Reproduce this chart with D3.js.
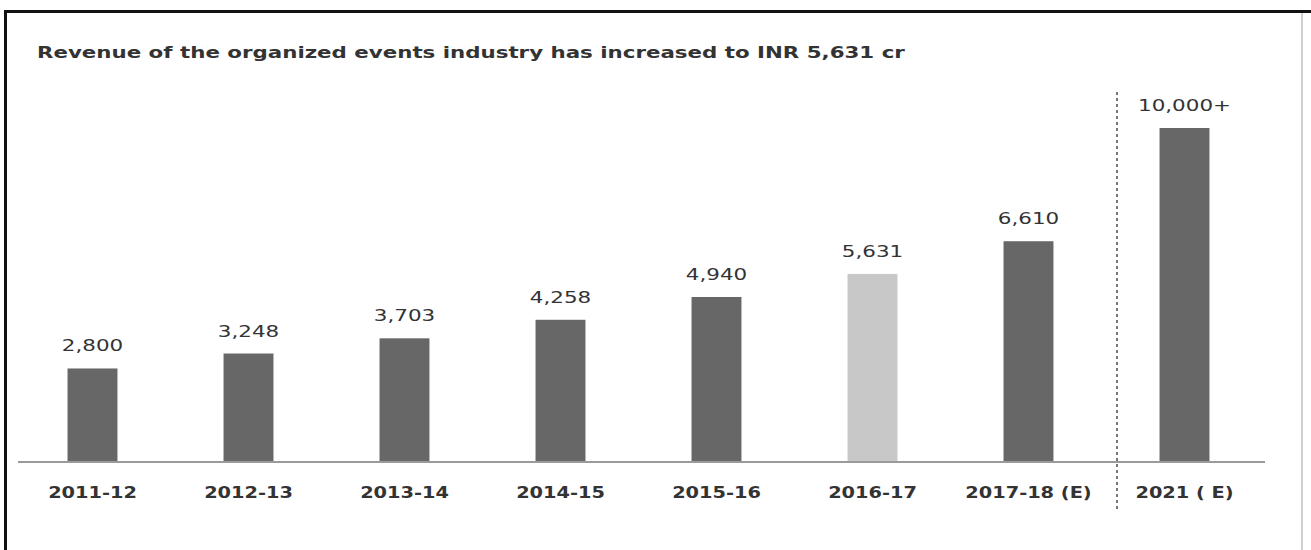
<!DOCTYPE html>
<html>
<head>
<meta charset="utf-8">
<script src="https://cdn.jsdelivr.net/npm/d3@7"></script>
<style>
  body { margin: 0; background: #fff; }
  svg text { font-family: "DejaVu Sans", Verdana, sans-serif; fill: #333; }
</style>
</head>
<body>
<svg width="1311" height="550"></svg>
<script>
// The svg
var svg = d3.select("svg"),
  width = +svg.attr("width"),
  height = +svg.attr("height");

// Data
var years = ["2011-12", "2012-13", "2013-14", "2014-15", "2015-16", "2016-17", "2017-18 (E)", "2021 ( E)"];
var revenue = [2800, 3248, 3703, 4258, 4940, 5631, 6610, 10000];
var valueLabels = ["2,800", "3,248", "3,703", "4,258", "4,940", "5,631", "6,610", "10,000+"];
var highlight = ["2016-17"];

var title = "Revenue of the organized events industry has increased to INR 5,631 cr";

// scales
var x = d3.scaleBand()
  .domain(years)
  .range([14.5, 1262.5])
  .paddingInner(0.68)
  .paddingOuter(0.34);

var y = d3.scaleLinear()
  .domain([0, 10000])
  .range([462, 128]);

// frame
svg.append("rect").attr("x", 4).attr("y", 10).attr("width", 1307).attr("height", 3).attr("fill", "#111");
svg.append("rect").attr("x", 4).attr("y", 10).attr("width", 3).attr("height", 540).attr("fill", "#111");
svg.append("rect").attr("x", 1301).attr("y", 13).attr("width", 2).attr("height", 537).attr("fill", "#d0d0d0");

// stretched text helper (the source image is horizontally wide)
function stretchText(px, py, txt, size, weight, sx) {
  return svg.append("text")
    .attr("transform", "translate(" + px + "," + py + ") scale(" + sx + ",1)")
    .attr("font-size", size)
    .attr("font-weight", weight)
    .text(txt);
}

// title
stretchText(37, 58, title, 16, "bold", 1.335);

// bars
svg.append("g").selectAll("rect")
  .data(years)
  .enter()
  .append("rect")
  .attr("x", (d) => x(d))
  .attr("y", (d, i) => y(revenue[i]))
  .attr("width", x.bandwidth())
  .attr("height", (d, i) => y(0) - y(revenue[i]))
  .attr("fill", (d) => highlight.includes(d) ? "#c8c8c8" : "#676767");

// baseline axis
var axis = svg.append("g")
  .attr("transform", "translate(0," + y(0) + ")")
  .call(d3.axisBottom(x).tickSize(0).tickFormat(""));
axis.select(".domain").remove();
axis.append("line")
  .attr("x1", 18).attr("x2", 1265)
  .attr("stroke", "#9a9a9a").attr("stroke-width", 2);

// category labels
years.forEach(function (d) {
  stretchText(x(d) + x.bandwidth() / 2, 498, d, 15, "bold", 1.29)
    .attr("text-anchor", "middle");
});

// value labels
years.forEach(function (d, i) {
  stretchText(x(d) + x.bandwidth() / 2, y(revenue[i]) - 17, valueLabels[i], 16, "normal", 1.34)
    .attr("text-anchor", "middle");
});

// separator for estimate
svg.append("line")
  .attr("x1", 1117).attr("x2", 1117)
  .attr("y1", 92).attr("y2", 509)
  .attr("stroke", "#777")
  .attr("stroke-width", 2)
  .attr("stroke-dasharray", "3,3");
</script>
</body>
</html>
